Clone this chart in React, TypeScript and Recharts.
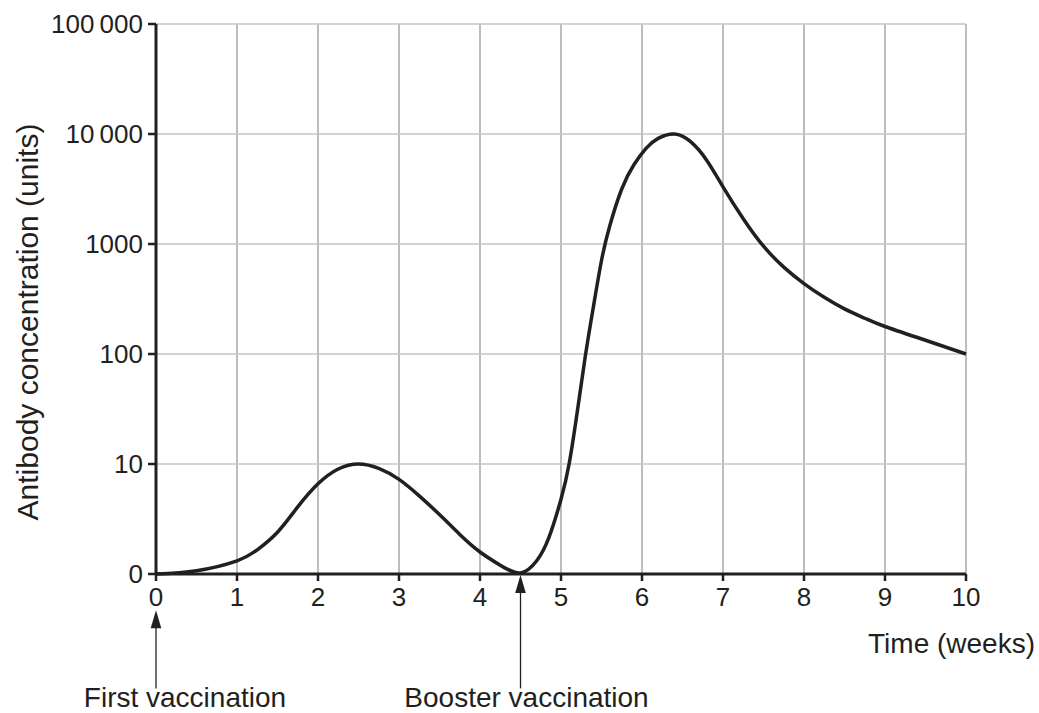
import { LineChart, Line, XAxis, YAxis, CartesianGrid, ReferenceLine } from 'recharts';

// antibody curve (y in log "levels": 0 -> 0, 1 -> 10, ... 5 -> 100 000)
const weeks = [0, 0.5, 1, 1.25, 1.5, 1.75, 2, 2.25, 2.5, 2.75, 3, 3.25, 3.5, 3.75, 4, 4.25, 4.5,
  4.7, 4.85, 5, 5.1, 5.2, 5.3, 5.4, 5.5, 5.6, 5.75, 5.9, 6.05, 6.2, 6.4, 6.6, 6.8, 7, 7.25, 7.5, 7.75,
  8, 8.25, 8.5, 8.75, 9, 9.5, 10];
const levels = [0, 0.03, 0.12, 0.22, 0.38, 0.61, 0.82, 0.955, 1.0, 0.96, 0.86, 0.71, 0.54, 0.36, 0.2, 0.08, 0.01,
  0.12, 0.33, 0.68, 1.0, 1.47, 1.98, 2.43, 2.85, 3.16, 3.5, 3.72, 3.87, 3.96, 4.0, 3.93, 3.76, 3.52, 3.23, 2.98, 2.79,
  2.64, 2.515, 2.41, 2.325, 2.25, 2.125, 2.0];

const weekTicks = [0, 1, 2, 3, 4, 5, 6, 7, 8, 9, 10];
const levelTicks = [0, 1, 2, 3, 4, 5];
const levelLabels = ['0', '10', '100', '1000', '10\u2009000', '100\u2009000'];

const arrowWeeks = [0, 4.5];
const arrowTips = [-0.33, -0.01];
const arrowBase = -1.04;
const arrowLabels = ['First vaccination', 'Booster vaccination'];
const arrowLabelShift = [29, 6];

const INK = '#231f20';
const FONT = '"Liberation Sans", Arial, Helvetica, sans-serif';

const data = weeks.map((week, i) => ({ week, level: levels[i] }));

function Arrow({ x1, y1, y2, text, dx }: any) {
  const head = 18;
  return (
    <g>
      <line x1={x1} y1={y1 + head - 1} x2={x1} y2={y2} stroke={INK} strokeWidth={1.3} />
      <polygon points={`${x1},${y1} ${x1 - 5.3},${y1 + head} ${x1 + 5.3},${y1 + head}`} fill={INK} />
      <text x={x1 + dx} y={y2 + 19} textAnchor="middle" fontFamily={FONT} fontSize={28} fill={INK}>
        {text}
      </text>
    </g>
  );
}

export default function App() {
  return (
    <div style={{ position: 'absolute', left: 0, top: 0, background: '#fff' }}>
      <LineChart width={1039} height={713} data={data} margin={{ top: 24, right: 73, left: 0, bottom: 0 }}>
        <CartesianGrid horizontal={false} stroke="#9a9a9a" strokeWidth={1.3} />
        <CartesianGrid vertical={false} stroke="#c4c4c4" strokeWidth={1.5} />
        <XAxis
          dataKey="week"
          type="number"
          domain={[0, 10]}
          ticks={weekTicks}
          height={139}
          axisLine={{ stroke: INK, strokeWidth: 3 }}
          tickLine={{ stroke: INK, strokeWidth: 2.5 }}
          tickSize={7}
          tickMargin={7}
          tick={{ fill: INK, fontSize: 26, fontFamily: FONT }}
          label={(p: any) => (
            <text
              x={p.viewBox.x + p.viewBox.width + 69}
              y={p.viewBox.y + 79}
              textAnchor="end"
              fontFamily={FONT}
              fontSize={28}
              fill={INK}
            >
              Time (weeks)
            </text>
          )}
        />
        <YAxis
          type="number"
          domain={[0, 5]}
          ticks={levelTicks}
          width={156}
          interval={0}
          tickFormatter={(v: number) => levelLabels[v]}
          axisLine={{ stroke: INK, strokeWidth: 3 }}
          tickLine={{ stroke: INK, strokeWidth: 2.5 }}
          tickSize={8}
          tickMargin={5}
          tick={{ fill: INK, fontSize: 26, fontFamily: FONT }}
          label={(p: any) => (
            <text
              x={p.viewBox.x + 38}
              y={p.viewBox.y + 298}
              transform={`rotate(-90 ${p.viewBox.x + 38} ${p.viewBox.y + 298})`}
              textAnchor="middle"
              fontFamily={FONT}
              fontSize={30}
              fill={INK}
            >
              Antibody concentration (units)
            </text>
          )}
        />
        <Line
          type="natural"
          dataKey="level"
          stroke={INK}
          strokeWidth={3.5}
          dot={false}
          isAnimationActive={false}
        />
        {arrowWeeks.map((w, i) => (
          <ReferenceLine
            key={w}
            segment={[{ x: w, y: arrowTips[i] }, { x: w, y: arrowBase }]}
            ifOverflow="visible"
            shape={(p: any) => <Arrow {...p} text={arrowLabels[i]} dx={arrowLabelShift[i]} />}
          />
        ))}
      </LineChart>
    </div>
  );
}
